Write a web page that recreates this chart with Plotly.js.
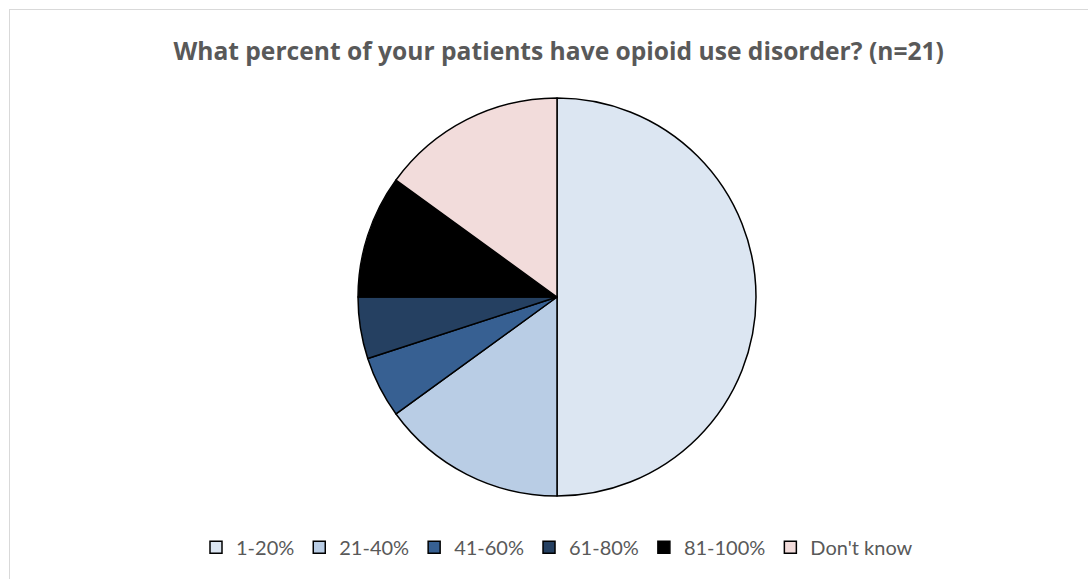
<!DOCTYPE html>
<html>
<head>
<meta charset="utf-8">
<script src="https://cdn.plot.ly/plotly-3.0.1.min.js"></script>
<style>
html,body{margin:0;padding:0;background:#fff;}
#wrap{position:relative;width:1088px;height:579px;overflow:hidden;}
#chart{position:absolute;left:0;top:0;width:1088px;height:579px;}
#border{position:absolute;left:9px;top:9px;width:1200px;height:700px;border:1.5px solid #d9d9d9;pointer-events:none;}
</style>
</head>
<body>
<div id="wrap"><div id="border"></div><div id="chart"></div></div>
<script>
const categories = ["1-20%", "21-40%", "41-60%", "61-80%", "81-100%", "Don't know"];
const values = [50, 15, 5, 5, 10, 15];
const colors = ["#DCE6F2", "#B9CDE5", "#376092", "#254061", "#000000", "#F2DCDB"];
const titleText = "What percent of your patients have opioid use disorder? (n=21)";

const trace = {
  type: "pie",
  labels: categories,
  values: values,
  sort: false,
  direction: "clockwise",
  rotation: 0,
  textinfo: "none",
  hoverinfo: "label+percent",
  marker: {colors: colors, line: {color: "#000000", width: 1.5}}
};

const layout = {
  width: 1088, height: 579,
  margin: {l: 26, r: 0, t: 98, b: 83},
  paper_bgcolor: "rgba(0,0,0,0)",
  plot_bgcolor: "rgba(0,0,0,0)",
  title: {text: "<b>" + titleText + "</b>", x: 0.5135, xanchor: "center", y: 0.912, yanchor: "middle",
          font: {family: "Open Sans, Liberation Sans, Arial, sans-serif", size: 24.6, color: "#595959"}},
  showlegend: true,
  legend: {orientation: "h", x: 0.5, xanchor: "center", y: -0.08, yanchor: "top",
           font: {family: "Lato, Liberation Sans, Arial, sans-serif", size: 20, color: "#595959"},
           traceorder: "normal", itemwidth: 30}
};

Plotly.newPlot("chart", [trace], layout, {displayModeBar: false, staticPlot: true});
</script>
</body>
</html>
